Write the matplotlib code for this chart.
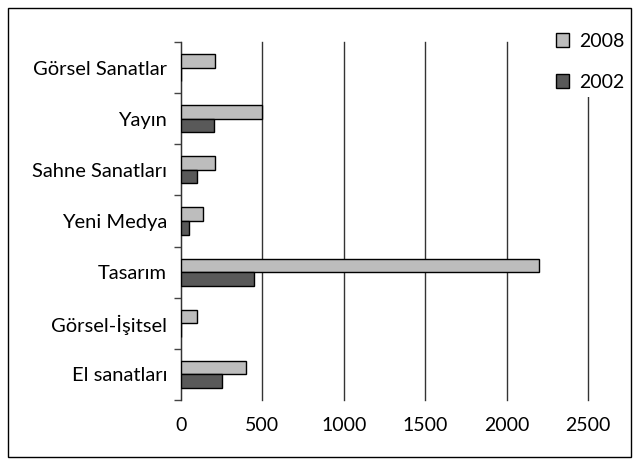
import matplotlib.pyplot as plt
import numpy as np

categories = ["Görsel Sanatlar", "Yayın", "Sahne Sanatları", "Yeni Medya",
              "Tasarım", "Görsel-İşitsel", "El sanatları"]
values_2008 = [210, 500, 210, 135, 2200, 100, 400]
values_2002 = [0, 200, 100, 50, 450, 0, 250]
xticks = [0, 500, 1000, 1500, 2000, 2500]

plt.rcParams['font.family'] = ['Lato', 'DejaVu Sans']

fig = plt.figure(figsize=(6.39, 4.65), dpi=100)
ax = fig.add_axes([181 / 639, 1 - 400 / 465, (588 - 181) / 639, (400 - 42) / 465])

y = np.arange(len(categories))
h = 0.265
ax.barh(y - h / 2, values_2008, height=h, color='#bdbdbd', edgecolor='black',
        linewidth=1, label='2008', zorder=3)
ax.barh(y + h / 2, values_2002, height=h, color='#595959', edgecolor='black',
        linewidth=1, label='2002', zorder=3)

ax.set_xlim(0, 2500)
ax.set_ylim(len(categories) - 0.5, -0.5)
ax.set_xticks(xticks)
ax.set_xticklabels([str(v) for v in xticks], fontsize=14)
ax.set_yticks(np.arange(len(categories) + 1) - 0.5, minor=True)
ax.set_yticks(y)
ax.set_yticklabels(categories, fontsize=14.5)
ax.tick_params(axis='y', which='major', length=0, pad=10)
ax.tick_params(axis='y', which='minor', length=5, width=1, color='#444444')
ax.tick_params(axis='x', length=0, pad=12)

ax.grid(axis='x', color='#333333', linewidth=1, zorder=0)
for gl in ax.get_xgridlines():
    gl.set_clip_on(False)
for s in ['top', 'right', 'bottom']:
    ax.spines[s].set_visible(False)
ax.spines['left'].set_color('#333333')

leg = ax.legend(loc='upper left', bbox_to_anchor=(540 / 639, 1 - 17 / 465),
                bbox_transform=fig.transFigure, frameon=True, fontsize=14,
                handlelength=0.7, handleheight=0.7, labelspacing=1.25,
                handletextpad=0.5, borderpad=0.3)
leg.get_frame().set_edgecolor('none')
leg.get_frame().set_facecolor('white')
leg.get_frame().set_alpha(1)
leg.set_zorder(5)

fig.patches.append(plt.Rectangle((8 / 639, 8 / 465), 623 / 639, 449 / 465,
                                 transform=fig.transFigure, fill=False,
                                 edgecolor='black', linewidth=1))

fig.savefig('out.png', dpi=100)
